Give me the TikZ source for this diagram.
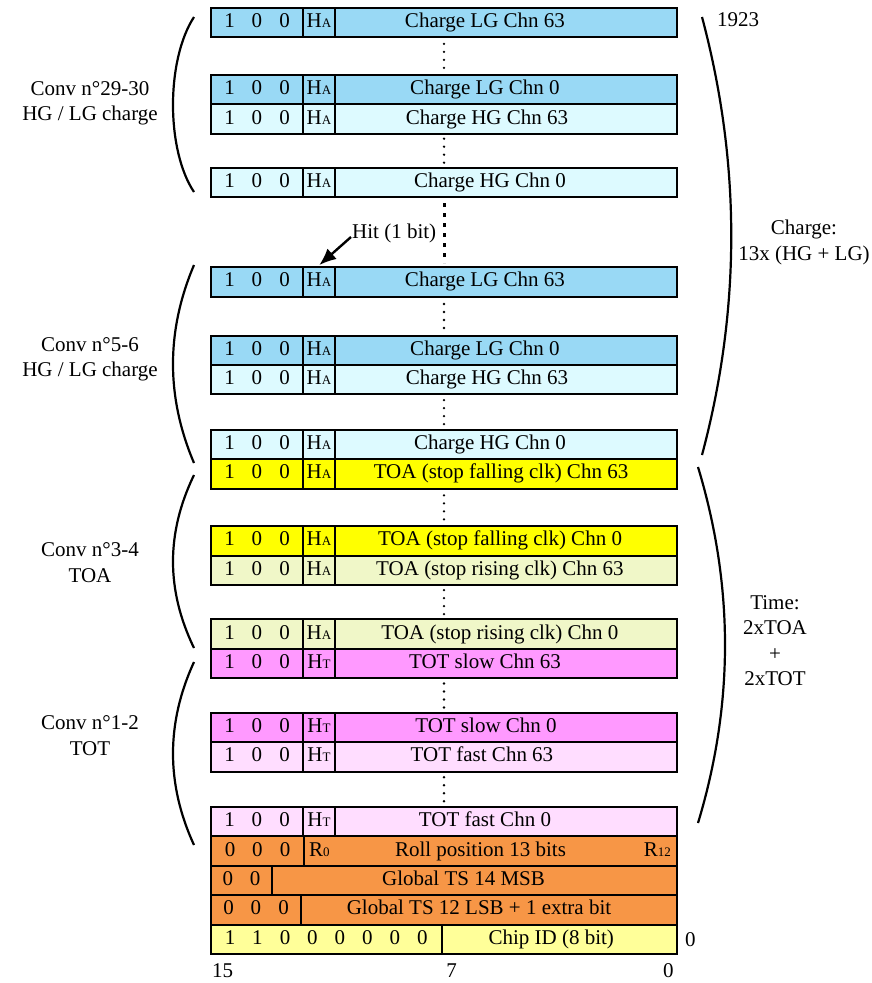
\documentclass[tikz,border=0pt]{standalone}
\usepackage{fontspec}
\setmainfont{Liberation Serif}
\usepackage{tikz}
\usetikzlibrary{positioning,arrows.meta,calc}

\definecolor{lgblue}{RGB}{153,217,245}
\definecolor{hgcyan}{RGB}{221,250,255}
\definecolor{toafall}{RGB}{255,255,0}
\definecolor{toarise}{RGB}{240,247,200}
\definecolor{totslow}{RGB}{255,153,255}
\definecolor{totfast}{RGB}{255,221,255}
\definecolor{trailer}{RGB}{247,150,70}
\definecolor{chipid}{RGB}{255,255,153}

\newcommand{\gp}{\hspace{17pt}}
\newcommand{\smallsub}[1]{{\fontsize{13}{13}\selectfont #1}}
\newcommand{\hitA}{H\smallsub{A}}
\newcommand{\hitT}{H\smallsub{T}}

\begin{document}
\begin{tikzpicture}[x=1pt, y=-1pt,
  font=\fontsize{21}{25.5}\selectfont,
  cell/.style={draw, line width=2pt, outer sep=0pt, inner sep=0pt,
               minimum height=29.4pt, text height=14.5pt, text depth=4.5pt},
  bits/.style={cell, minimum width=92pt},
  hitf/.style={cell, minimum width=32pt},
  field/.style={cell, minimum width=342pt},
  lbl/.style={inner sep=0pt, align=center},
  paren/.style={line width=2.2pt},
  smalldots/.style={line width=2.6pt, line cap=round, dash pattern=on 0pt off 8pt},
  bigdots/.style={line width=3pt, dash pattern=on 4pt off 6pt},
  hitarr/.style={-{Latex[length=17pt,width=14pt]}, line width=2.4pt, shorten >=3pt}
]
\useasboundingbox (0,0) rectangle (871,983);
\coordinate (r0a) at (257,7.5);
\coordinate (dotx) at (444,0);

% charge, TOA and TOT words
\foreach \rn/\rc/\rh/\rt/\rg/\rp [remember=\rn as \rprev (initially r0)] in {%
  r1/lgblue/\hitA/Charge LG Chn 63/0pt/42,%
  r2/lgblue/\hitA/Charge LG Chn 0/38pt/42,%
  r3/hgcyan/\hitA/Charge HG Chn 63/0pt/38,%
  r4/hgcyan/\hitA/Charge HG Chn 0/34pt/32,%
  r5/lgblue/\hitA/Charge LG Chn 63/70pt/42,%
  r6/lgblue/\hitA/Charge LG Chn 0/39pt/42,%
  r7/hgcyan/\hitA/Charge HG Chn 63/0pt/38,%
  r8/hgcyan/\hitA/Charge HG Chn 0/35.5pt/32,%
  r9/toafall/\hitA/TOA (stop falling clk) Chn 63/0pt/10,%
  r10/toafall/\hitA/TOA (stop falling clk) Chn 0/37.5pt/12,%
  r11/toarise/\hitA/TOA (stop rising clk) Chn 63/0pt/12,%
  r12/toarise/\hitA/TOA (stop rising clk) Chn 0/34.5pt/12,%
  r13/totslow/\hitT/TOT slow Chn 63/0pt/42,%
  r14/totslow/\hitT/TOT slow Chn 0/34.5pt/40,%
  r15/totfast/\hitT/TOT fast Chn 63/0pt/48,%
  r16/totfast/\hitT/TOT fast Chn 0/35.5pt/42%
}{
  \node[bits, fill=\rc, below=\rg of \rprev a] (\rn a) {1\gp0\gp0};
  \node[hitf, fill=\rc, right=0pt of \rn a] (\rn b) {\rh};
  \node[field, fill=\rc, right=0pt of \rn b] (\rn c) {\rt\kern\rp pt};
}

% trailer words
\node[cell, minimum width=93pt, fill=trailer, anchor=north west] (r17a) at (r16a.south west) {0\gp0\gp0};
\node[cell, minimum width=373pt, fill=trailer, right=0pt of r17a] (r17c) {Roll position 13 bits\kern20pt};
\node[lbl, anchor=base west] (rlo) at ($(r17c.base west)+(5,0)$) {R\smallsub{0}};
\node[lbl, anchor=base east] (rhi) at ($(r17c.base east)+(-6,0)$) {R\smallsub{12}};

\node[cell, minimum width=61pt, fill=trailer, anchor=north west] (r18a) at (r17a.south west) {0\gp0};
\node[cell, minimum width=405pt, fill=trailer, right=0pt of r18a] (r18c) {Global TS 14 MSB\kern22pt};

\node[cell, minimum width=90pt, fill=trailer, anchor=north west] (r19a) at (r18a.south west) {0\gp0\gp0};
\node[cell, minimum width=376pt, fill=trailer, right=0pt of r19a] (r19c) {Global TS 12 LSB + 1 extra bit\kern20pt};

\node[cell, minimum width=230.5pt, fill=chipid, anchor=north west] (r20a) at (r19a.south west) {1\gp1\gp0\gp0\gp0\gp0\gp0\gp0};
\node[cell, minimum width=235.5pt, fill=chipid, right=0pt of r20a] (r20c) {Chip ID (8 bit)\kern16pt};

% dots between first and last channel
\foreach \up/\lo in {r1/r2, r3/r4, r5/r6, r7/r8, r9/r10, r11/r12, r13/r14, r15/r16}{
  \coordinate (m) at ($(\up c.south -| dotx)!0.5!(\lo c.north -| dotx)$);
  \draw[smalldots] ($(m)+(0,-12)$) -- ($(m)+(0,12.5)$);
}
\draw[bigdots] ($(r4c.south -| dotx)+(0,6)$) -- ($(r5c.north -| dotx)+(0,-4)$);

% hit flag
\node[lbl, anchor=west] (hitlbl) at (352,233) {Hit (1 bit)};
\draw[hitarr] ([xshift=-1pt,yshift=-4pt]hitlbl.west) -- ([xshift=-2pt]r5b.north);

% bit numbers
\node[lbl] (n1923) at ($(r1c.north east)+(61,12.5)$) {1923};
\node[lbl, anchor=west] (nlast) at ($(r20c.east)+(8,0)$) {0};
\node[lbl] (b15) at ($(r20a.south west)+(11.5,17)$) {15};
\node[lbl] (b7) at ($(r20a.south east)+(10,17)$) {7};
\node[lbl] (b0) at ($(r20c.south east)+(-8.7,17)$) {0};

% conversions
\draw[paren] (194,17) .. controls (166,60) and (166,150) .. (194,192);
\draw[paren] (194,265) .. controls (166,331) and (166,397) .. (194,463);
\draw[paren] (194,475) .. controls (166,533) and (166,590) .. (194,648);
\draw[paren] (194,662) .. controls (166,723) and (166,784) .. (194,845);
\draw[paren] (702,17) .. controls (741,163) and (741,309) .. (702,455);
\draw[paren] (698,467) .. controls (734,586) and (734,704) .. (698,823);

\node[lbl] (conv2930) at (90,103.5) {Conv n°29-30\\HG / LG charge};
\node[lbl] (conv56) at (90,359.5) {Conv n°5-6\\HG / LG charge};
\node[lbl] (conv34) at (90,562.5) {Conv n°3-4\\TOA};
\node[lbl] (conv12) at (90,735.5) {Conv n°1-2\\TOT};
\node[lbl] (chargelbl) at (804,242.5) {Charge:\\13x (HG + LG)};
\node[lbl] (timelbl) at (775,640.5) {Time:\\2xTOA\\+\\2xTOT};
\end{tikzpicture}
\end{document}
